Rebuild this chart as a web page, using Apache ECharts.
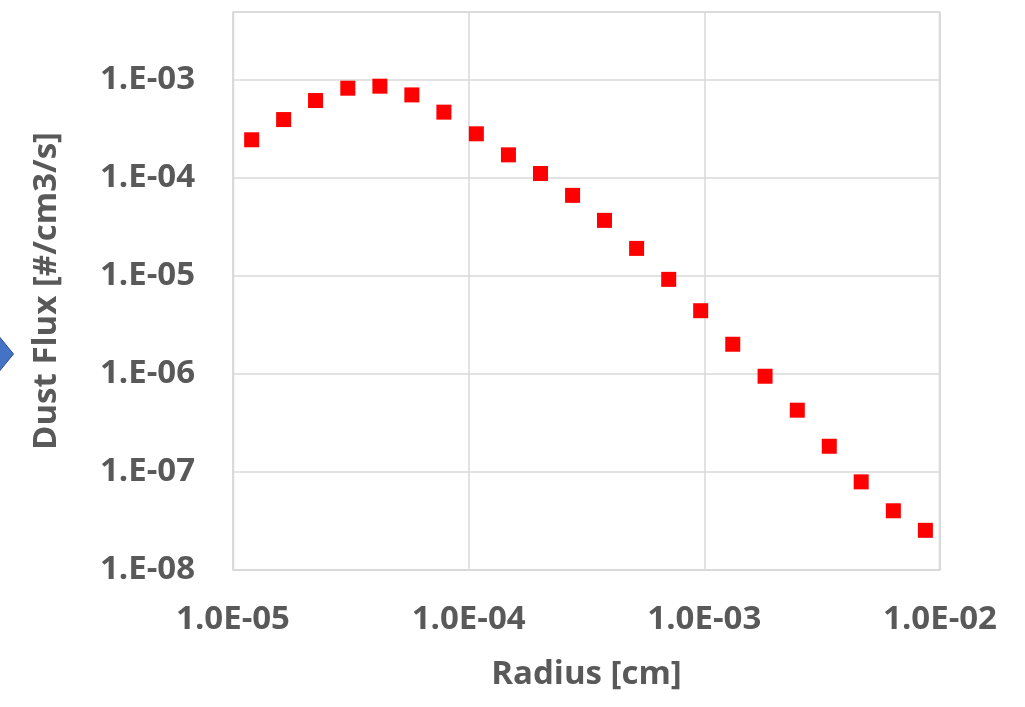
<!DOCTYPE html>
<html>
<head>
<meta charset="utf-8">
<script src="https://cdn.jsdelivr.net/npm/echarts@6/dist/echarts.min.js"></script>
<style>
  html, body { margin: 0; padding: 0; background: #ffffff; }
  #chart { width: 1025px; height: 707px; }
</style>
</head>
<body>
<div id="chart"></div>
<script>
// Particle radius [cm]
const radius = [
  1.20e-5, 1.64e-5, 2.24e-5, 3.07e-5, 4.20e-5, 5.74e-5, 7.85e-5, 1.078e-4,
  1.475e-4, 2.017e-4, 2.76e-4, 3.77e-4, 5.16e-4, 7.06e-4, 9.65e-4, 1.32e-3,
  1.81e-3, 2.48e-3, 3.39e-3, 4.63e-3, 6.34e-3, 8.67e-3
];
// Dust flux [#/cm3/s]
const dustFlux = [
  2.45e-4, 3.94e-4, 6.16e-4, 8.23e-4, 8.63e-4, 7.03e-4, 4.69e-4, 2.82e-4,
  1.72e-4, 1.11e-4, 6.64e-5, 3.69e-5, 1.91e-5, 9.23e-6, 4.42e-6, 2.01e-6,
  9.48e-7, 4.27e-7, 1.83e-7, 7.93e-8, 4.02e-8, 2.54e-8
];
// Tick labels, keyed by decade exponent
const xTickLabels = { '-5': '1.0E-05', '-4': '1.0E-04', '-3': '1.0E-03', '-2': '1.0E-02' };
const yTickLabels = { '-8': '1.E-08', '-7': '1.E-07', '-6': '1.E-06', '-5': '1.E-05', '-4': '1.E-04', '-3': '1.E-03' };

const xRange = [1e-5, 1e-2];
const yRange = [1e-8, 4.93e-3];

const textColor = '#595959';
const gridColor = '#d9d9d9';
const fontFamily = '"Open Sans", "Noto Sans", sans-serif';
const fontSize = 33;

function decadeLabel(table) {
  return function (v) {
    const e = Math.log10(v);
    const r = Math.round(e);
    if (Math.abs(e - r) > 1e-6) return '';
    return table[String(r)] || '';
  };
}

const chart = echarts.init(document.getElementById('chart'), null, { renderer: 'canvas' });

chart.setOption({
  backgroundColor: '#ffffff',
  animation: false,
  grid: { left: 233, right: 85, top: 12, bottom: 137, containLabel: false },
  xAxis: {
    type: 'log',
    logBase: 10,
    min: xRange[0],
    max: xRange[1],
    splitNumber: 3,
    name: 'Radius [cm]',
    nameLocation: 'middle',
    nameGap: 88,
    nameTextStyle: { color: textColor, fontSize: fontSize, fontWeight: 'bold', fontFamily: fontFamily },
    axisLine: { show: true, lineStyle: { color: gridColor, width: 1.5 } },
    axisTick: { show: false },
    minorTick: { show: false },
    splitLine: { show: true, lineStyle: { color: gridColor, width: 1.5 } },
    axisLabel: {
      color: textColor, fontSize: fontSize, fontWeight: 'bold', fontFamily: fontFamily,
      margin: 33,
      formatter: decadeLabel(xTickLabels)
    }
  },
  yAxis: {
    type: 'log',
    logBase: 10,
    min: yRange[0],
    max: yRange[1],
    splitNumber: 5,
    name: 'Dust Flux [#/cm3/s]',
    nameLocation: 'middle',
    nameRotate: 90,
    nameGap: 170,
    nameTextStyle: { color: textColor, fontSize: fontSize, fontWeight: 'bold', fontFamily: fontFamily },
    axisLine: { show: true, lineStyle: { color: gridColor, width: 1.5 } },
    axisTick: { show: false },
    minorTick: { show: false },
    splitLine: { show: true, lineStyle: { color: gridColor, width: 1.5 } },
    axisLabel: {
      color: textColor, fontSize: fontSize, fontWeight: 'bold', fontFamily: fontFamily,
      margin: 38,
      formatter: decadeLabel(yTickLabels)
    }
  },
  series: [{
    type: 'scatter',
    data: radius.map((r, i) => [r, dustFlux[i]]),
    symbol: 'rect',
    symbolSize: 15,
    itemStyle: { color: '#ff0000', opacity: 1 }
  }],
  graphic: [
    // plot frame: top and right edges
    {
      type: 'rect',
      shape: { x: 233.5, y: 12, width: 706, height: 558 },
      style: { fill: 'none', stroke: gridColor, lineWidth: 1.5 },
      silent: true, z: -1
    },
    // connector arrow peeking in from the left
    {
      type: 'polygon',
      shape: { points: [[-20, 313], [13.5, 354], [-20, 395]] },
      style: { fill: '#4472c4', stroke: '#2f528f', lineWidth: 1 },
      silent: true
    }
  ]
});
</script>
</body>
</html>
